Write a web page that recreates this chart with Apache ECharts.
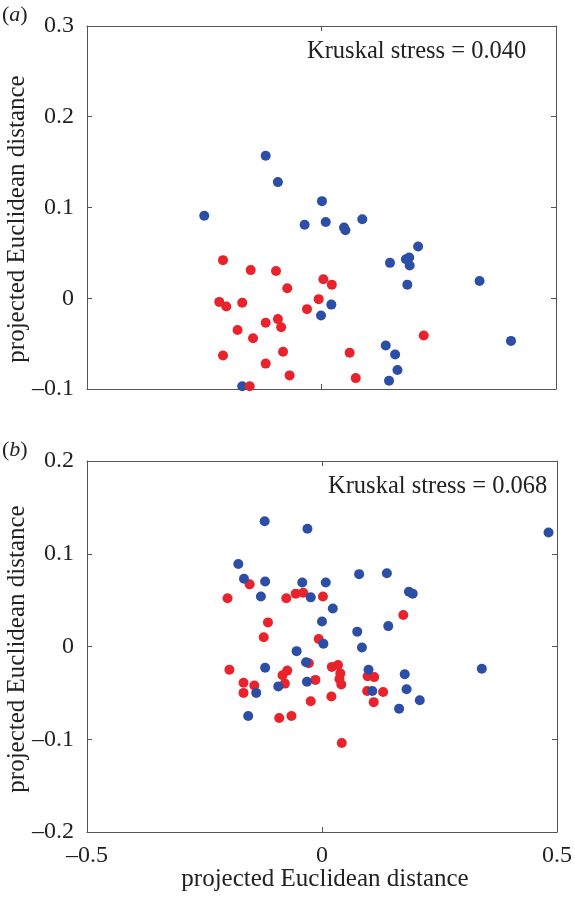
<!DOCTYPE html>
<html><head><meta charset="utf-8">
<script src="https://cdn.jsdelivr.net/npm/echarts@6/dist/echarts.min.js"></script>
<style>html,body{margin:0;padding:0;background:#fff}#c{width:575px;height:897px}</style>
</head><body><div id="c"></div>
<script>
// ---- data ----
const topBlue = [[-0.119,0.157],[-0.093,0.128],[0.001,0.107],[-0.250,0.091],[-0.036,0.081],[0.009,0.084],[0.048,0.078],[0.051,0.075],[0.087,0.087],[0.206,0.057],[0.146,0.039],[0.180,0.043],[0.187,0.045],[0.188,0.036],[0.183,0.015],[0.337,0.019],[0.021,-0.007],[-0.001,-0.019],[0.404,-0.047],[0.137,-0.052],[0.157,-0.062],[0.162,-0.079],[0.144,-0.091],[-0.169,-0.097]];
const topRed = [[-0.210,0.042],[-0.151,0.031],[-0.097,0.030],[-0.073,0.011],[0.004,0.021],[0.022,0.015],[-0.006,-0.001],[-0.031,-0.012],[-0.218,-0.004],[-0.203,-0.009],[-0.169,-0.005],[-0.119,-0.027],[-0.093,-0.023],[-0.086,-0.032],[-0.179,-0.035],[-0.146,-0.044],[-0.210,-0.063],[-0.082,-0.059],[-0.119,-0.072],[-0.068,-0.085],[-0.153,-0.097],[0.060,-0.060],[0.073,-0.088],[0.218,-0.041]];
const bottomBlue = [[-0.122,0.135],[-0.031,0.127],[0.482,0.123],[-0.178,0.089],[-0.166,0.073],[-0.121,0.070],[-0.042,0.069],[0.008,0.069],[0.079,0.078],[0.138,0.079],[0.185,0.059],[0.193,0.057],[-0.130,0.054],[-0.024,0.053],[0.023,0.041],[0.000,0.027],[0.075,0.016],[0.141,0.022],[0.003,0.003],[0.085,-0.001],[-0.054,-0.005],[-0.121,-0.023],[-0.034,-0.017],[0.099,-0.025],[0.176,-0.030],[0.340,-0.024],[-0.032,-0.038],[-0.093,-0.043],[-0.140,-0.050],[0.107,-0.048],[0.180,-0.046],[0.208,-0.058],[0.164,-0.067],[-0.157,-0.075]];
const bottomRed = [[-0.154,0.067],[-0.201,0.052],[-0.076,0.052],[-0.056,0.057],[-0.040,0.058],[0.002,0.054],[0.173,0.034],[-0.115,0.026],[-0.124,0.010],[-0.007,0.008],[-0.197,-0.025],[-0.167,-0.039],[-0.144,-0.042],[-0.167,-0.050],[-0.074,-0.026],[-0.084,-0.031],[-0.079,-0.040],[-0.028,-0.018],[-0.014,-0.036],[0.021,-0.022],[0.034,-0.020],[0.039,-0.029],[0.037,-0.035],[0.041,-0.041],[0.097,-0.032],[0.111,-0.033],[0.096,-0.048],[0.130,-0.049],[0.110,-0.060],[-0.024,-0.059],[0.020,-0.054],[-0.091,-0.077],[-0.065,-0.075],[0.042,-0.104]];
const xTicks = [-0.5, 0, 0.5];
const stressA = 'Kruskal stress = 0.040';
const stressB = 'Kruskal stress = 0.068';
const axisTitle = 'projected Euclidean distance';

// ---- styling ----
const FONT = 'Liberation Serif';
const TXT = '#222';
const FRAME = '#555';
const BLUE = '#2d4ea6';
const RED = '#e8232b';
const fmt = v => { const r = Math.round(v * 10) / 10; return r < 0 ? '\u2013' + Math.abs(r) : String(r); };

function xAx(grid, pos, showLabels) {
  return {
    type: 'value', gridIndex: grid, position: pos, min: xTicks[0], max: xTicks[xTicks.length - 1], interval: 0.5,
    axisLine: { show: true, onZero: false, lineStyle: { color: FRAME, width: 1 } },
    axisTick: { show: true, inside: true, length: 5, lineStyle: { color: FRAME } },
    axisLabel: { show: showLabels, formatter: fmt, fontFamily: FONT, fontSize: 24, color: TXT, margin: 12 },
    splitLine: { show: false }
  };
}
function yAx(grid, pos, min, max, showLabels) {
  return {
    type: 'value', gridIndex: grid, position: pos, min: min, max: max, interval: 0.1,
    axisLine: { show: true, onZero: false, lineStyle: { color: FRAME, width: 1 } },
    axisTick: { show: true, inside: true, length: 5, lineStyle: { color: FRAME } },
    axisLabel: { show: showLabels, formatter: fmt, fontFamily: FONT, fontSize: 24, color: TXT, margin: 13 },
    splitLine: { show: false }
  };
}
function sc(data, color, xi, yi) {
  return { type: 'scatter', data: data, xAxisIndex: xi, yAxisIndex: yi, symbol: 'circle', symbolSize: 10,
    itemStyle: { color: color, opacity: 1 }, silent: true, animation: false };
}
function txt(x, y, text, size, opts) {
  return Object.assign({ type: 'text', x: x, y: y, silent: true,
    style: Object.assign({ text: text, font: size + 'px "' + FONT + '"', fill: TXT, textAlign: 'left', textVerticalAlign: 'middle' }, opts || {}) });
}

const chart = echarts.init(document.getElementById('c'), null, { renderer: 'canvas' });
chart.setOption({
  animation: false,
  grid: [
    { left: 87, top: 26, width: 469, height: 363 },
    { left: 87, top: 461, width: 475, height: 371 }
  ],
  xAxis: [ xAx(0, 'bottom', false), xAx(0, 'top', false), xAx(1, 'bottom', true), xAx(1, 'top', false) ],
  yAxis: [ yAx(0, 'left', -0.1, 0.3, true), yAx(0, 'right', -0.1, 0.3, false), yAx(1, 'left', -0.2, 0.2, true), yAx(1, 'right', -0.2, 0.2, false) ],
  series: [
    sc(topBlue, BLUE, 0, 0), sc(topRed, RED, 0, 0),
    sc(bottomRed, RED, 2, 2), sc(bottomBlue, BLUE, 2, 2)
  ],
  graphic: [
    txt(307, 52, stressA, 24.5),
    txt(328, 487, stressB, 24.5),
    { type: 'text', x: 2, y: 15, silent: true, style: { text: '({i|a})', font: '22px "' + FONT + '"', fill: TXT, textVerticalAlign: 'middle',
      rich: { i: { fontStyle: 'italic', fontFamily: FONT, fontSize: 22 } } } },
    { type: 'text', x: 2, y: 450, silent: true, style: { text: '({i|b})', font: '22px "' + FONT + '"', fill: TXT, textVerticalAlign: 'middle',
      rich: { i: { fontStyle: 'italic', fontFamily: FONT, fontSize: 22 } } } },
    txt(325, 879, axisTitle, 25, { textAlign: 'center' }),
    { type: 'text', x: 17, y: 219, rotation: Math.PI / 2, silent: true,
      style: { text: axisTitle, font: '25px "' + FONT + '"', fill: TXT, textAlign: 'center', textVerticalAlign: 'middle' } },
    { type: 'text', x: 17, y: 649, rotation: Math.PI / 2, silent: true,
      style: { text: axisTitle, font: '25px "' + FONT + '"', fill: TXT, textAlign: 'center', textVerticalAlign: 'middle' } }
  ]
});
</script></body></html>
